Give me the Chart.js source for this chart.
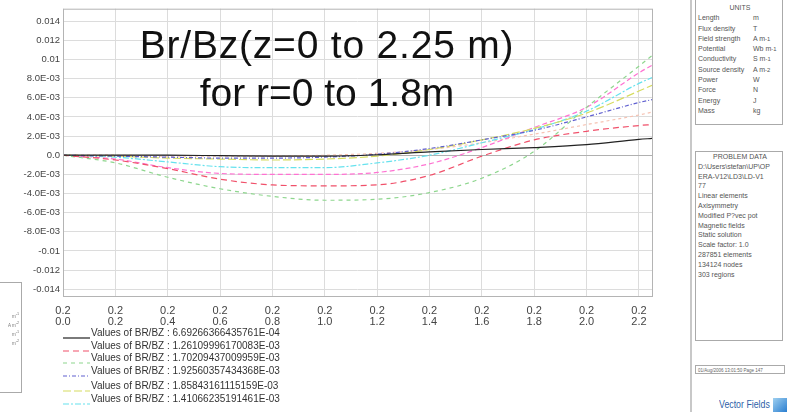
<!DOCTYPE html>
<html>
<head>
<meta charset="utf-8">
<script src="https://cdn.jsdelivr.net/npm/chart.js@4.4.1/dist/chart.umd.min.js"></script>
<style>
  body { margin: 0; background: #fff; font-family: "Liberation Sans", Arial, sans-serif; }
  #page { position: relative; width: 787px; height: 412px; overflow: hidden; background: #fff; }
  #chartBox { position: absolute; left: 0; top: 0; width: 660px; height: 330px; }
  .title { position: absolute; left: 77px; width: 500px; text-align: center; font-size: 39px;
           line-height: 39px; color: #111; white-space: nowrap; }
  #legend { position: absolute; left: 63px; top: 0; font-size: 10px; color: #333; }
  .legRow { position: absolute; left: 0; height: 12px; white-space: nowrap; display: flex; align-items: flex-end; }
  .legRow svg { margin-right: 1px; }
  .legRow span { line-height: 12px; }
  .sideLine { position: absolute; left: 690px; top: 0; width: 2px; height: 412px; background: #c8c8c8; }
  .panel { position: absolute; left: 695px; width: 88px; border: 1px solid #aaa; font-size: 7px;
           line-height: 9.8px; color: #555; padding-left: 2px; box-sizing: border-box; }
  .panel .head { text-align: center; }
  .unitRow { display: flex; }
  .unitRow b { font-weight: normal; width: 55px; }
  #stamp { position: absolute; left: 695px; top: 365px; width: 90px; height: 9px; border: 1px solid #aaa;
           font-size: 4.5px; line-height: 9px; color: #666; padding-left: 2px; box-sizing: border-box; }
  #brand { position: absolute; left: 719px; top: 398px; font-size: 11px; color: #2d5fa8;
           transform: scaleX(0.8); transform-origin: left top; white-space: nowrap; }
  #brandIcon { position: absolute; left: 773px; top: 398px; width: 14px; height: 14px;
               background: linear-gradient(135deg, #9fd0f0, #2a7ed0); }
  #leftBox { position: absolute; left: -2px; top: 282px; width: 24px; height: 111px; border: 1px solid #aaa;
             font-size: 4.5px; line-height: 7.5px; color: #777; text-align: right; box-sizing: border-box;
             padding-top: 28px; padding-right: 2px; }
</style>
</head>
<body>
<div id="page">
  <div id="chartBox"><canvas id="brBzCtx"></canvas></div>
  <div class="title" style="top:25px;letter-spacing:0.8px">Br/Bz(z=0 to 2.25 m)</div>
  <div class="title" style="top:73px">for r=0 to 1.8m</div>
  <div id="legend"></div>

  <div id="leftBox">m<sup>-1</sup><br>A m<sup>-2</sup><br>m<sup>-1</sup><br>m<sup>-2</sup></div>

  <div class="sideLine"></div>
  <div class="panel" style="top:-1px;height:126px;padding-top:3px;line-height:10.3px">
    <div class="head">UNITS</div>
    <div id="unitRows"></div>
  </div>
  <div class="panel" style="top:151px;height:190px">
    <div class="head">PROBLEM DATA</div>
    D:\Users\stefan\UP\OP<br>
    ERA-V12\LD3\LD-V1<br>
    77<br>
    Linear elements<br>
    Axisymmetry<br>
    Modified P?vec pot<br>
    Magnetic fields<br>
    Static solution<br>
    Scale factor: 1.0<br>
    287851 elements<br>
    134124 nodes<br>
    303 regions
  </div>
  <div id="stamp">01/Aug/2006 13:01:50 Page 147</div>
  <div id="brandIcon"></div>
  <div id="brand">Vector Fields</div>
</div>

<script>
// z positions along the path (m)
const zValues = [0, 0.2, 0.4, 0.6, 0.8, 1.0, 1.2, 1.4, 1.6, 1.8, 2.0, 2.2, 2.25];

// Br/Bz for each radius, one value per z position
const brBzBlack   = [0, 0, 0, -0.00005, -0.0001, -0.0001, 0.00005, 0.00035, 0.0006, 0.0008, 0.0011, 0.00165, 0.00175];
const brBzRed     = [0, -0.0005, -0.0014, -0.0025, -0.0031, -0.0032, -0.0031, -0.0021, -0.0001, 0.0016, 0.0025, 0.0031, 0.0032];
const brBzGreen   = [0, -0.0008, -0.0023, -0.0035, -0.0043, -0.0047, -0.0046, -0.0039, -0.0024, 0.0004, 0.005, 0.0093, 0.0104];
const brBzBlue    = [0, -0.0001, -0.0002, -0.0003, -0.0003, -0.0002, 0.0001, 0.0007, 0.0016, 0.0026, 0.004, 0.0055, 0.0058];
const brBzYellow  = [0, -0.0001, -0.0003, -0.0004, -0.0005, -0.0004, -0.0001, 0.0006, 0.0016, 0.0028, 0.0044, 0.0067, 0.0073];
const brBzCyan    = [0, -0.0002, -0.0007, -0.0012, -0.0013, -0.0013, -0.0008, 0.0, 0.0013, 0.0027, 0.0046, 0.0075, 0.0081];
const brBzMagenta = [0, -0.0004, -0.0013, -0.0019, -0.002, -0.002, -0.0018, -0.0009, 0.0008, 0.0029, 0.005, 0.0086, 0.0094];
const brBzPeach   = [0, 0, -0.0001, -0.0001, -0.0001, 0, 0.0002, 0.0006, 0.0013, 0.0022, 0.0032, 0.0042, 0.0045];

// legend texts (only the first six curves are listed)
const legendTexts = [
  "Values of BR/BZ : 6.69266366435761E-04",
  "Values of BR/BZ : 1.26109996170083E-03",
  "Values of BR/BZ : 1.70209437009959E-03",
  "Values of BR/BZ : 1.92560357434368E-03",
  "Values of BR/BZ : 1.85843161115159E-03",
  "Values of BR/BZ : 1.41066235191461E-03"
];

// axis ticks
const xTicks = [0, 0.2, 0.4, 0.6, 0.8, 1.0, 1.2, 1.4, 1.6, 1.8, 2.0, 2.2];
const xTickLabels = ["0.0", "0.2", "0.4", "0.6", "0.8", "1.0", "1.2", "1.4", "1.6", "1.8", "2.0", "2.2"];
const yTicks = [-0.014, -0.012, -0.01, -0.008, -0.006, -0.004, -0.002, 0, 0.002, 0.004, 0.006, 0.008, 0.01, 0.012, 0.014];
const yTickLabels = ["-0.014", "-0.012", "-0.01", "-8.0E-03", "-6.0E-03", "-4.0E-03", "-2.0E-03", "0.0",
                     "2.0E-03", "4.0E-03", "6.0E-03", "8.0E-03", "0.01", "0.012", "0.014"];

const unitNames = ["Length", "Flux density", "Field strength", "Potential", "Conductivity", "Source density", "Power", "Force", "Energy", "Mass"];
const unitSymbols = ["m", "T", "A m<sup>-1</sup>", "Wb m<sup>-1</sup>", "S m<sup>-1</sup>", "A m<sup>-2</sup>", "W", "N", "J", "kg"];

// line styles, in draw order
const curves = [
  { data: brBzBlack,   color: "#222222", dash: [],           legend: 0 },
  { data: brBzRed,     color: "#f0506a", dash: [6, 4],       legend: 1 },
  { data: brBzGreen,   color: "#8ed68e", dash: [4, 4],       legend: 2 },
  { data: brBzBlue,    color: "#6060d0", dash: [4, 2, 1, 2], legend: 3 },
  { data: brBzYellow,  color: "#d6dc60", dash: [8, 3],       legend: 4 },
  { data: brBzCyan,    color: "#66e2ee", dash: [6, 2, 2, 2], legend: 5 },
  { data: brBzMagenta, color: "#ff72d2", dash: [5, 3],       legend: -1 },
  { data: brBzPeach,   color: "#f6c2b2", dash: [3, 3],       legend: -1 }
];

// outline round the plot area
const frameBox = {
  id: "frameBox",
  afterDraw(chart) {
    const a = chart.chartArea, ctx = chart.ctx;
    ctx.save();
    ctx.strokeStyle = "#b4b4b4";
    ctx.lineWidth = 1;
    ctx.strokeRect(a.left + 0.5, a.top + 0.5, a.right - a.left, a.bottom - a.top);
    ctx.restore();
  }
};

var brBzChart = new Chart(document.getElementById("brBzCtx"), {
  type: "line",
  data: {
    datasets: curves.map(c => ({
      data: zValues.map((z, i) => ({ x: z, y: c.data[i] })),
      borderColor: c.color,
      borderDash: c.dash,
      borderWidth: 1.2,
      pointRadius: 0,
      fill: false,
      cubicInterpolationMode: "monotone",
      legendIndex: c.legend
    }))
  },
  options: {
    responsive: false,
    animation: false,
    layout: { padding: { top: 5, right: 8, left: 0, bottom: 0 } },
    plugins: { legend: { display: false }, tooltip: { enabled: false } },
    scales: {
      x: {
        type: "linear",
        min: 0,
        max: 2.25,
        afterBuildTicks: axis => { axis.ticks = xTicks.map(v => ({ value: v })); },
        afterFit: axis => { axis.height = 34; },
        ticks: {
          autoSkip: false,
          maxRotation: 0,
          padding: 9,
          color: "#444",
          font: { family: "Liberation Sans", size: 11, lineHeight: 1.0 },
          callback: (v, i) => ["0.2", xTickLabels[i]]
        },
        grid: { color: "#dcdcdc", drawTicks: false },
        border: { display: false }
      },
      y: {
        min: -0.0147,
        max: 0.0153,
        afterBuildTicks: axis => { axis.ticks = yTicks.map(v => ({ value: v })); },
        afterFit: axis => { axis.width = 63; },
        ticks: {
          autoSkip: false,
          padding: 3,
          color: "#444",
          font: { family: "Liberation Sans", size: 9.5 },
          callback: (v, i) => yTickLabels[i]
        },
        grid: {
          color: ctx => (ctx.tick && ctx.tick.value === 0 ? "#b0b0b0" : "#dcdcdc"),
          drawTicks: false
        },
        border: { display: false }
      }
    }
  },
  plugins: [frameBox]
});
brBzChart.canvas.style.width = "660px";
brBzChart.canvas.style.height = "330px";
brBzChart.resize(660, 330);

// legend rows below the axis, drawn from the datasets
const legendBox = document.getElementById("legend");
const legendTops = [327, 340, 352, 365, 380, 393];
brBzChart.data.datasets.forEach(ds => {
  if (ds.legendIndex < 0) return;
  const row = document.createElement("div");
  row.className = "legRow";
  row.style.top = legendTops[ds.legendIndex] + "px";
  row.innerHTML = '<svg width="27" height="6"><line x1="0" y1="5" x2="27" y2="5" stroke="' + ds.borderColor +
    '" stroke-width="1.2" stroke-dasharray="' + ds.borderDash.join(",") + '"/></svg>' +
    "<span>" + legendTexts[ds.legendIndex] + "</span>";
  legendBox.appendChild(row);
});

// units table on the side panel
document.getElementById("unitRows").innerHTML = unitNames
  .map((n, i) => '<div class="unitRow"><b>' + n + "</b>" + unitSymbols[i] + "</div>")
  .join("");
</script>
</body>
</html>
